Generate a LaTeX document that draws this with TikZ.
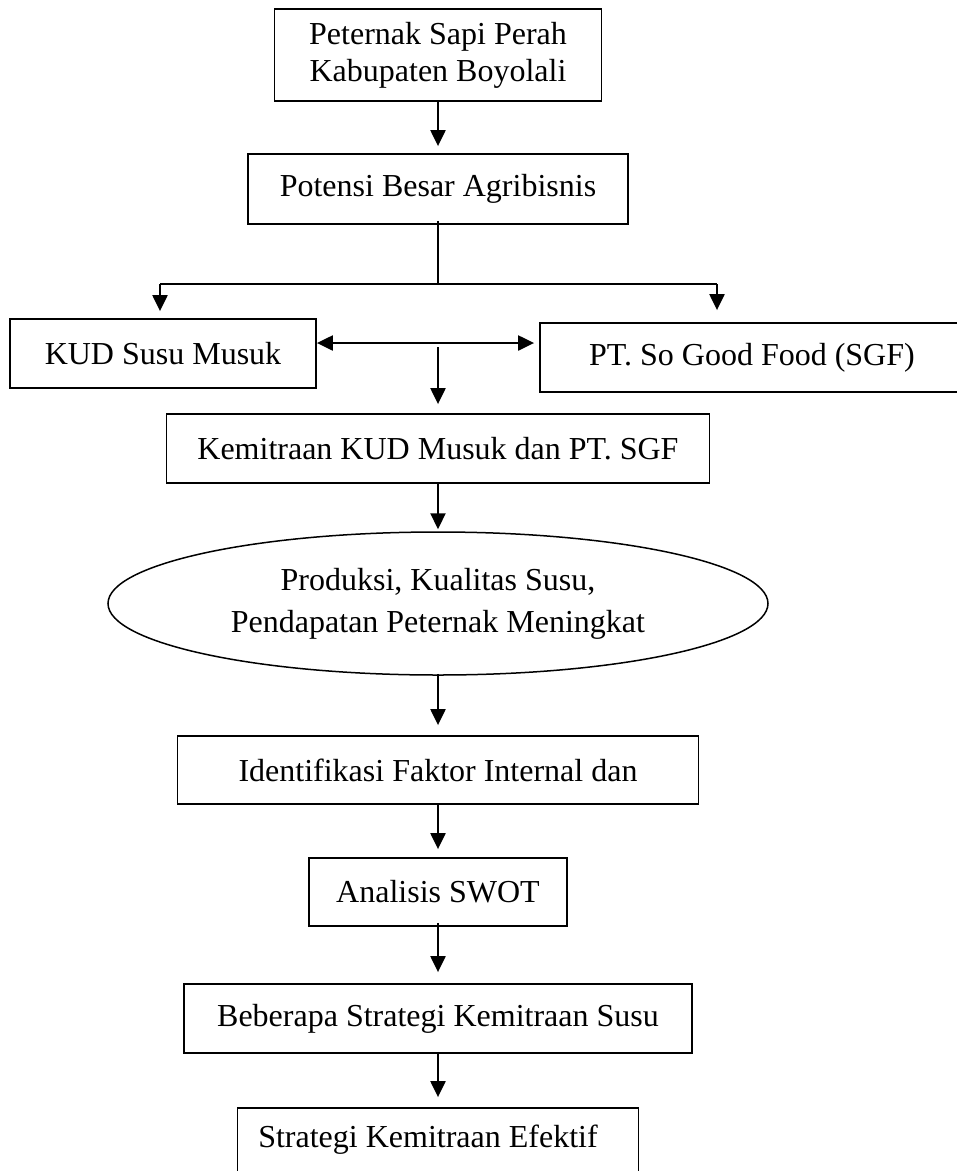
\documentclass[tikz,border=0pt]{standalone}
\usepackage{fontspec}
\setmainfont{Liberation Serif}
\usetikzlibrary{arrows.meta,shapes.geometric}
\begin{document}
\begin{tikzpicture}[x=1pt,y=-1pt,
  box/.style={draw,line width=1.8pt,inner sep=0pt,align=center,font=\fontsize{32}{37}\selectfont},
  oval/.style={draw,ellipse,line width=1.5pt,inner sep=0pt,align=center,font=\fontsize{32}{42}\selectfont},
  conn/.style={line width=2.2pt},
  arr/.style={conn,-{Triangle[length=16pt,width=15pt]}},
  darr/.style={conn,{Triangle[length=16pt,width=15pt]}-{Triangle[length=16pt,width=15pt]}}]
\useasboundingbox (0,0) rectangle (957,1171);
\clip (0,0) rectangle (957,1171);
% nodes
\node[box,minimum width=327pt,minimum height=92pt] (b1) at (438,55) {Peternak Sapi Perah\\Kabupaten Boyolali};
\node[box,minimum width=380pt,minimum height=70pt] (b2) at (438,189) {Potensi Besar Agribisnis};
\node[box,minimum width=306pt,minimum height=69pt] (kud) at (163,353.5) {KUD Susu Musuk};
\node[box,minimum width=440pt,minimum height=69pt] (sgf) at (760,357.5) {};
\node[font=\fontsize{32}{37}\selectfont] (sgft) at (752,357.5) {PT. So Good Food (SGF)};
\node[box,minimum width=543pt,minimum height=69pt] (kem) at (438,448.5) {Kemitraan KUD Musuk dan PT. SGF};
\node[oval,minimum width=660pt,minimum height=143pt] (ov) at (438,603.5) {Produksi, Kualitas Susu,\\Pendapatan Peternak Meningkat};
\node[box,minimum width=521pt,minimum height=68pt] (idf) at (438,770) {Identifikasi Faktor Internal dan};
\node[box,minimum width=258pt,minimum height=68pt] (swot) at (438,892) {Analisis SWOT};
\node[box,minimum width=508pt,minimum height=69pt] (beb) at (438,1018.5) {Beberapa Strategi Kemitraan Susu};
\node[box,minimum width=401pt,minimum height=70pt] (str) at (438,1143) {};
\node[font=\fontsize{32}{37}\selectfont] (strt) at (428,1140) {Strategi Kemitraan Efektif};
% coordinates
\coordinate (sp) at (438,284);
\coordinate (spL) at (160,284);
\coordinate (spR) at (717,284);
\coordinate (da) at (438,343);
\coordinate (dm) at (438,347);
% connectors
\draw[arr,shorten >=7pt] (b1.south) -- (b2.north);
\draw[conn] ([yshift=4pt]b2.south) -- (sp);
\draw[conn] (spL) -- (spR);
\draw[arr,shorten >=7pt] (spL) -- (spL |- kud.north);
\draw[arr,shorten >=12pt] (spR) -- (spR |- sgf.north);
\draw[darr,shorten >=5pt] (kud.east |- da) -- (sgf.west |- da);
\draw[arr,shorten >=9pt] (dm) -- (kem.north);
\draw[arr,shorten >=2pt] (kem.south) -- (ov.north);
\draw[arr,shorten >=10pt] ([yshift=2pt]ov.south) -- (idf.north);
\draw[arr,shorten >=8pt] (idf.south) -- (swot.north);
\draw[arr,shorten >=11pt] ([yshift=4pt]swot.south) -- (beb.north);
\draw[arr,shorten >=10pt] ([yshift=2pt]beb.south) -- (str.north);
\end{tikzpicture}
\end{document}
